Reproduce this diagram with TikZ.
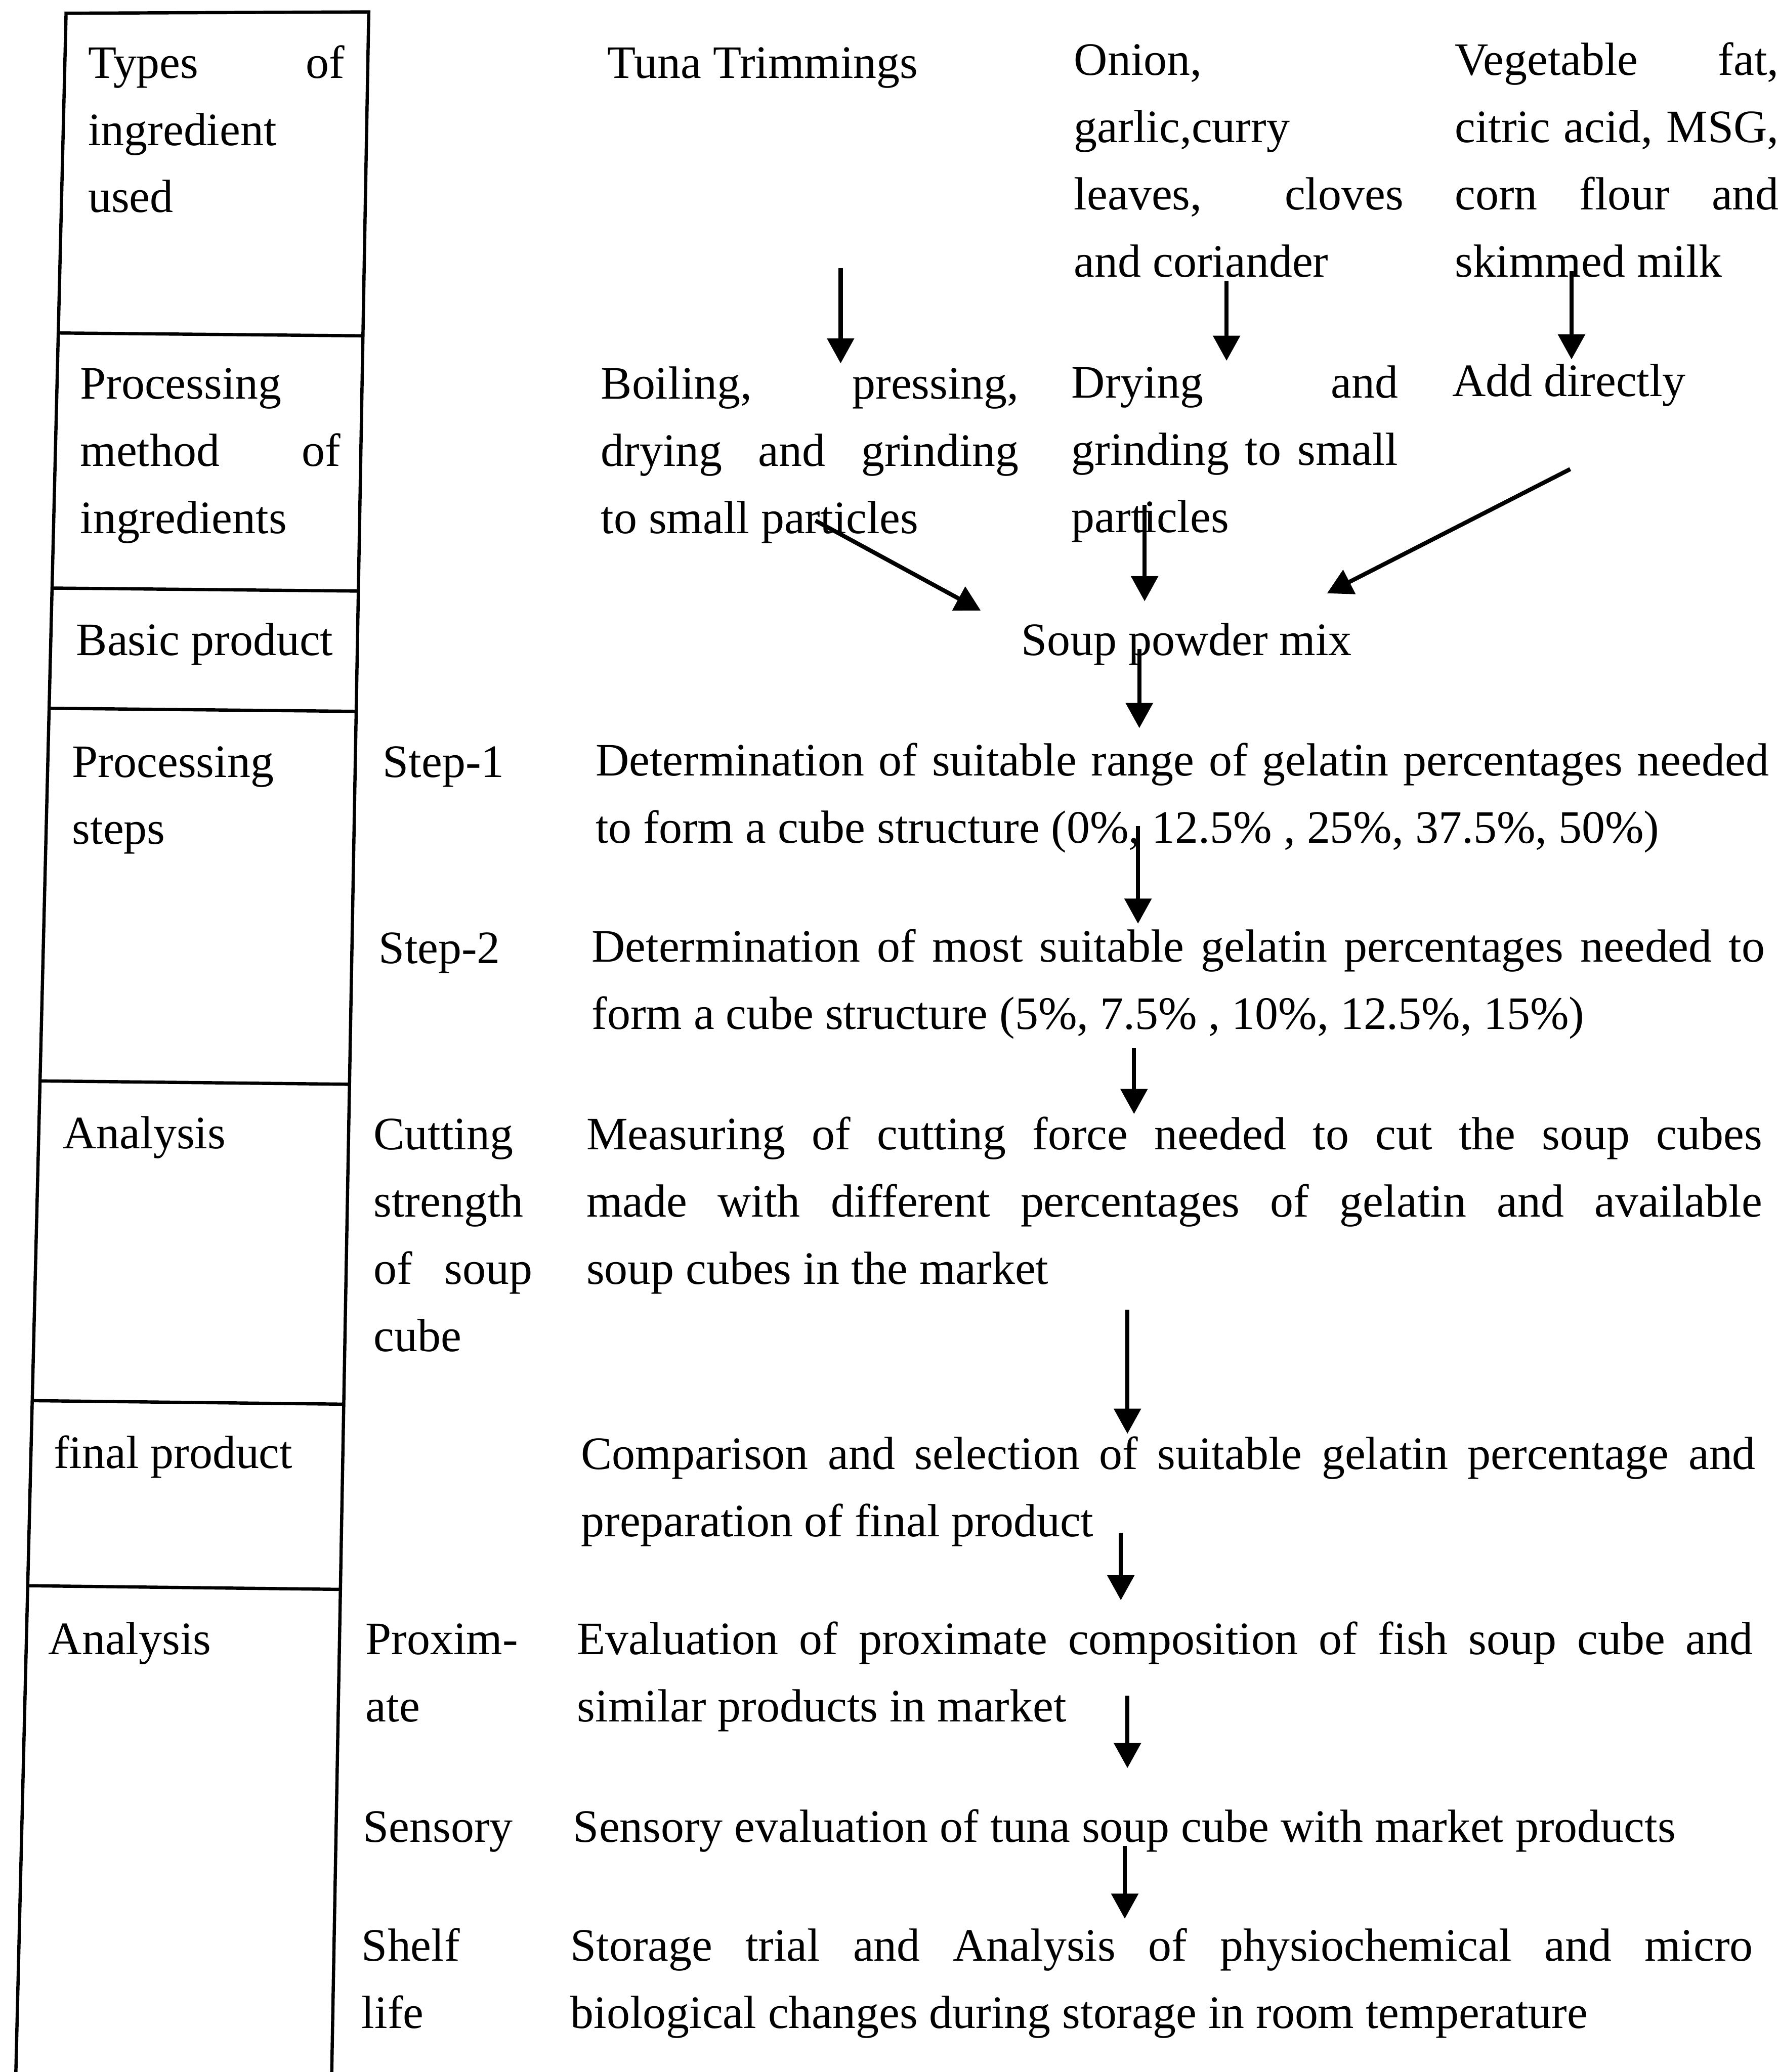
\documentclass[tikz,border=0pt]{standalone}
\usepackage{fontspec}
\setmainfont{Liberation Serif}
\usetikzlibrary{arrows.meta, positioning, calc}
\setlength{\parindent}{0pt}
\tolerance=10000
\hbadness=10000

\tikzset{
  lbl/.style={anchor=base west, inner sep=0pt, font=\fontsize{10}{14.46}\selectfont},
  blk/.style={lbl, text width=#1, align=justify},
  flow/.style={-{Triangle[length=1.9mm, width=2mm]}, line width=0.9pt},
  gridline/.style={line width=0.7pt},
}

\begin{document}
\begin{tikzpicture}[x=0.01cm, y=-0.01cm]
    \path[use as bounding box, fill=white] (0,0) rectangle (1345,1568);

    % left table (scanned, slightly skewed)
    \coordinate (tl) at (50,10);
    \coordinate (tr) at (279,9);
    \coordinate (bl) at (12,1568);
    \coordinate (br) at (251,1568);
    \draw[gridline] (bl) -- (tl) -- (tr) -- (br);
    \foreach \f in {0.1553,0.2792,0.3376,0.5186,0.6739,0.7638}
        \draw[gridline] ($(tl)!\f!(bl)$) -- ($(tr)!\f!(br) + (0,3)$);

    % row labels
    \node[blk=1.94cm] (types) at (66,59) {Types of\linebreak ingredient\newline used};
    \node[blk=1.97cm] (method) at (60,302) {Processing\newline method of\linebreak ingredients};
    \node[lbl] (basic) at (57,496) {Basic product};
    \node[blk=2cm] (steps) at (54,588) {Processing\newline steps};
    \node[lbl] (anaA) at (47,869) {Analysis};
    \node[lbl] (final) at (40,1111) {final product};
    \node[lbl] (anaB) at (36,1252) {Analysis};

    % sub labels
    \node[lbl] (stepA) at (289,588) {Step-1};
    \node[lbl] (stepB) at (286,729) {Step-2};
    \node[blk=1.2cm] (cutting) at (282,870) {Cutting\newline strength\newline of soup\linebreak cube};
    \node[blk=1.5cm] (proxim) at (276,1252) {Proxim-\newline ate};
    \node[lbl] (sensory) at (274,1394) {Sensory};
    \node[blk=1.5cm] (shelf) at (273,1484) {Shelf\newline life};

    % ingredients and processing
    \node[lbl] (tuna) at (459,59) {Tuna Trimmings};
    \node[blk=2.49cm] (onion) at (812,57) {Onion,\newline garlic,curry\newline leaves, cloves\linebreak and coriander};
    \node[blk=2.45cm] (veg) at (1100,57) {Vegetable fat,\linebreak citric acid, MSG,\linebreak corn flour and\linebreak skimmed milk};
    \node[blk=3.16cm] (boil) at (454,302) {Boiling, pressing,\linebreak drying and grinding\linebreak to small particles};
    \node[blk=2.47cm] (dry) at (810,301) {Drying and\linebreak grinding to small\linebreak particles};
    \node[lbl] (add) at (1098,300) {Add directly};
    \node[lbl] (mix) at (772,496) {Soup powder mix};

    % steps and analysis
    \node[blk=8.87cm] (detA) at (450,587) {Determination of suitable range of gelatin percentages needed\linebreak to form a cube structure (0\%, 12.5\% , 25\%, 37.5\%, 50\%)};
    \node[blk=8.87cm] (detB) at (447,728) {Determination of most suitable gelatin percentages needed to\linebreak form a cube structure (5\%, 7.5\% , 10\%, 12.5\%, 15\%)};
    \node[blk=8.89cm] (measure) at (443,870) {Measuring of cutting force needed to cut the soup cubes\linebreak made with different percentages of gelatin and available\linebreak soup cubes in the market};
    \node[blk=8.88cm] (compare) at (439,1112) {Comparison and selection of suitable gelatin percentage and\linebreak preparation of final product};
    \node[blk=8.89cm] (proxeval) at (436,1252) {Evaluation of proximate composition of fish soup cube and\linebreak similar products in market};
    \node[lbl] (senseval) at (433,1394) {Sensory evaluation of tuna soup cube with market products};
    \node[blk=8.94cm] (storage) at (431,1484) {Storage trial and Analysis of physiochemical and micro\linebreak biological changes during storage in room temperature};

    % arrow ends
    \coordinate (tunaS) at (636,203);  \coordinate (boilN) at (636,275);
    \coordinate (onionS) at (928,213); \coordinate (dryN) at (928,273);
    \coordinate (vegS) at (1189,205);  \coordinate (addN) at (1189,272);
    \coordinate (boilS) at (617,394);  \coordinate (mixW) at (742,462);
    \coordinate (dryS) at (866,382);   \coordinate (mixN) at (866,455);
    \coordinate (addS) at (1188,355);  \coordinate (mixE) at (1004,449);
    \coordinate (mixS) at (862,491);   \coordinate (detAN) at (862,551);
    \coordinate (detAS) at (861,625);  \coordinate (detBN) at (861,699);
    \coordinate (detBS) at (858,793);  \coordinate (measN) at (858,843);
    \coordinate (measS) at (853,991);  \coordinate (compN) at (853,1085);
    \coordinate (compS) at (848,1160); \coordinate (evalN) at (848,1211);
    \coordinate (evalS) at (853,1283); \coordinate (sensN) at (853,1338);
    \coordinate (sensS) at (851,1397); \coordinate (storN) at (851,1452);

    \foreach \a/\b in {tunaS/boilN, onionS/dryN, vegS/addN, boilS/mixW, dryS/mixN,
                       addS/mixE, mixS/detAN, detAS/detBN, detBS/measN, measS/compN,
                       compS/evalN, evalS/sensN, sensS/storN}
        \draw[flow] (\a) -- (\b);
\end{tikzpicture}
\end{document}
